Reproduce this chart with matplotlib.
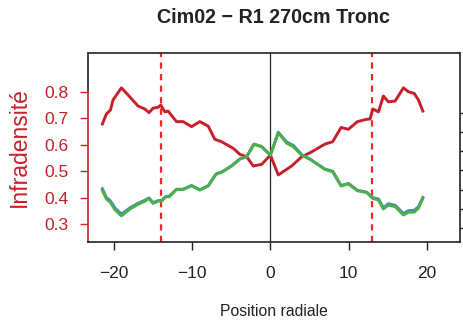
import matplotlib
matplotlib.use("Agg")
import matplotlib.pyplot as plt

plt.rcParams['font.family'] = ['Liberation Sans', 'DejaVu Sans']

# Data
x_red = [-21.46, -20.95, -20.43, -20.1, -19.03, -17.97, -16.9, -16.05, -15.5, -14.99,
         -14.35, -14.0, -13.49, -13.07, -12.0, -11.15, -10.08, -9.02, -7.95, -7.1,
         -6.24, -4.76, -3.9, -3.04, -2.2, -1.13, 0.0,
         1.0, 2.71, 3.99, 5.05, 6.97, 7.95, 9.02, 9.95, 11.1, 12.3, 12.72, 13.07,
         13.79, 14.42, 15.06, 15.92, 16.98, 17.62, 18.35, 18.9, 19.46]
red = [0.679, 0.717, 0.732, 0.770, 0.816, 0.782, 0.747, 0.736, 0.722, 0.739,
       0.742, 0.751, 0.725, 0.728, 0.688, 0.688, 0.669, 0.688, 0.671, 0.621,
       0.612, 0.587, 0.564, 0.555, 0.520, 0.526, 0.561,
       0.486, 0.520, 0.555, 0.570, 0.603, 0.612, 0.666, 0.659, 0.688, 0.697, 0.698,
       0.736, 0.725, 0.785, 0.763, 0.766, 0.816, 0.801, 0.795, 0.770, 0.728]

x_g = [-21.46, -20.95, -20.43, -19.88, -19.03, -17.97, -16.9, -16.05, -15.5, -14.99,
       -14.35, -13.9, -13.36, -12.94, -12.0, -11.15, -10.08, -9.02, -7.95, -6.97,
       -6.11, -4.96, -3.9, -3.04, -2.11, -1.13, 0.0, 1.0, 2.07, 2.92, 3.99, 5.05,
       6.97, 7.95, 9.02, 9.95, 11.1, 12.3, 13.07, 13.79, 14.42, 15.06, 15.92, 16.98,
       17.62, 18.35, 18.9, 19.46]
green = [0.428, 0.395, 0.382, 0.355, 0.331, 0.356, 0.375, 0.386, 0.397, 0.378,
         0.387, 0.387, 0.403, 0.403, 0.431, 0.431, 0.445, 0.429, 0.444, 0.488,
         0.498, 0.520, 0.546, 0.555, 0.602, 0.593, 0.561, 0.646, 0.606, 0.593, 0.561, 0.545,
         0.507, 0.498, 0.444, 0.452, 0.426, 0.419, 0.397, 0.391, 0.357, 0.372, 0.366, 0.334,
         0.345, 0.345, 0.360, 0.397]
blue = [0.434, 0.400, 0.388, 0.362, 0.338, 0.361, 0.379, 0.390, 0.399, 0.381,
        0.389, 0.389, 0.405, 0.405, 0.432, 0.432, 0.446, 0.430, 0.445, 0.489,
        0.499, 0.521, 0.547, 0.556, 0.603, 0.594, 0.561, 0.648, 0.611, 0.598, 0.563, 0.546,
        0.508, 0.500, 0.446, 0.454, 0.428, 0.421, 0.400, 0.395, 0.362, 0.377, 0.371, 0.340,
        0.351, 0.352, 0.366, 0.401]

x_ticks = [-20, -10, 0, 10, 20]
y_ticks = [0.3, 0.4, 0.5, 0.6, 0.7, 0.8]
limits_dashed = [-14.0, 13.0]

RED = '#C8202A'

fig = plt.figure(figsize=(4.63, 3.24), dpi=100)
ax = fig.add_axes([0.190, 0.2531, 0.8035, 0.5833])

ax.plot(x_red, red, color=RED, lw=2.1, zorder=3)
ax.plot(x_g, blue, color='#4A86C5', lw=2.1, zorder=3)
ax.plot(x_g, green, color='#4DAF4A', lw=2.1, zorder=4)

ax.axvline(0, color='#222222', lw=0.9, zorder=2)
for xv in limits_dashed:
    ax.axvline(xv, color='#F02828', lw=1.6, ls=(0, (2.8, 2.4)), zorder=2)

ax.set_xlim(-23.3, 24.2)
ax.set_ylim(0.232, 0.948)

ax.set_xticks(x_ticks)
ax.set_xticklabels([f'{v}'.replace('-', '\u2212') for v in x_ticks])
ax.set_yticks(y_ticks)
ax.set_yticklabels([f'{v:.1f}' for v in y_ticks])

ax.tick_params(axis='x', length=6, width=1.0, color='#222222', labelsize=12.5,
               labelcolor='#222222', pad=11)
ax.tick_params(axis='y', length=6, width=1.0, color=RED, labelsize=12.5,
               labelcolor=RED, pad=8)

for s in ['top', 'right', 'bottom']:
    ax.spines[s].set_linewidth(1.2)
    ax.spines[s].set_color('#222222')
ax.spines['left'].set_linewidth(1.2)
ax.spines['left'].set_color(RED)
ax.spines['left'].set_bounds(0.232, 0.8)
ax.plot([0, 0], [(0.8 - 0.232) / (0.948 - 0.232), 1], transform=ax.transAxes,
        color='#222222', lw=1.2, clip_on=False, solid_capstyle='butt')

ax2 = ax.twinx()
ax2.set_ylim(-0.728, 9.114)
ax2.set_yticks([0, 1, 2, 3, 4, 5, 6])
ax2.tick_params(axis='y', length=6, width=1.0, color='#222222', labelright=False)
for s in ['top', 'right', 'bottom', 'left']:
    ax2.spines[s].set_visible(False)

ax.set_ylabel('Infradensité', color=RED, fontsize=16.5, labelpad=10)
ax.set_xlabel('Position radiale', color='#222222', fontsize=11.3, labelpad=17)
fig.text(0.59, 0.945, 'Cim02 \u2212 R1 270cm Tronc', ha='center', va='center',
         fontsize=14.2, fontweight='bold', color='#222222')

fig.savefig('out.png', dpi=100)
